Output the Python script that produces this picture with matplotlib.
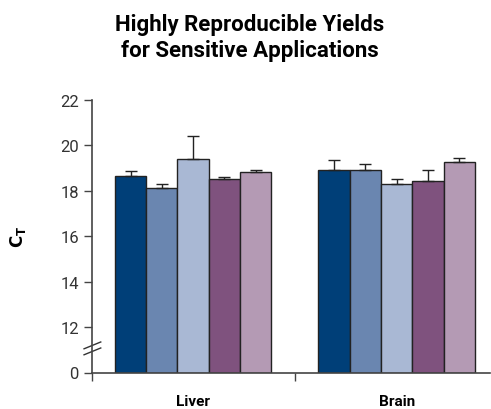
import numpy as np
import matplotlib.pyplot as plt

# Ct values per tissue (5 samples each) with upper error bars
tissues = ["Liver", "Brain"]
liver_ct = [18.65, 18.13, 19.39, 18.54, 18.83]
liver_err = [0.22, 0.15, 1.02, 0.08, 0.07]
brain_ct = [18.93, 18.93, 18.29, 18.42, 19.29]
brain_err = [0.44, 0.27, 0.22, 0.50, 0.14]
ytick_values = [10, 12, 14, 16, 18, 20, 22]
ytick_labels = ["0", "12", "14", "16", "18", "20", "22"]

colors = ["#003f78", "#6a86b0", "#a9b8d4", "#7f527e", "#b49ab4"]
base = 10  # axis is broken: the "0" tick sits where 10 would be

fig = plt.figure(figsize=(4.91, 4.10), dpi=100)
ax = fig.add_axes([92 / 491, 1 - 373.5 / 410, 398 / 491, 272.5 / 410])

liver_x = np.arange(5)
brain_x = np.arange(5) + 6.5
for xs, vals, errs in [(liver_x, liver_ct, liver_err), (brain_x, brain_ct, brain_err)]:
    heights = [v - base for v in vals]
    ax.bar(xs, heights, width=1.0, bottom=base, color=colors,
           edgecolor="#222222", linewidth=1.0, zorder=2)
    ax.errorbar(xs, vals, yerr=[np.zeros(5), errs], fmt="none",
                ecolor="#222222", elinewidth=1.0, capsize=4, capthick=1.0, zorder=3)

ax.set_xlim(-1.23, 11.48)
ax.set_ylim(base, 22)
ax.set_yticks(ytick_values)
ax.set_yticklabels(ytick_labels, fontsize=12, color="#333333", family="Roboto")
ax.set_xticks([-1.23, 5.25])
ax.set_xticklabels([])
ax.tick_params(axis="y", direction="out", length=6, width=1, color="#444444")
ax.tick_params(axis="x", direction="out", length=6, width=1, color="#444444")

for side in ["top", "right"]:
    ax.spines[side].set_visible(False)
for side in ["left", "bottom"]:
    ax.spines[side].set_color("#444444")
    ax.spines[side].set_linewidth(1.2)
ax.spines["left"].set_bounds(base, 22)

# category labels under each group
for name, center in zip(tissues, [2, 8.5]):
    ax.text(center, -0.105, name, transform=ax.get_xaxis_transform(),
            ha="center", va="center", fontsize=11, fontweight="bold", family="Roboto")

# axis break marks
for dy in [0.0, 0.022]:
    ax.plot([-0.02, 0.022], [0.065 + dy, 0.09 + dy], transform=ax.transAxes,
            color="#333333", linewidth=1.0, clip_on=False)

fig.text(18 / 491, 1 - 237 / 410, r"$\mathbf{C_T}$", rotation=90,
         ha="center", va="center", fontsize=12)

fig.text(250 / 491, 1 - 38 / 410, "Highly Reproducible Yields\nfor Sensitive Applications",
         ha="center", va="center", fontsize=16, fontweight="bold", family="Roboto",
         linespacing=1.25)

fig.savefig("out.png", dpi=100)
